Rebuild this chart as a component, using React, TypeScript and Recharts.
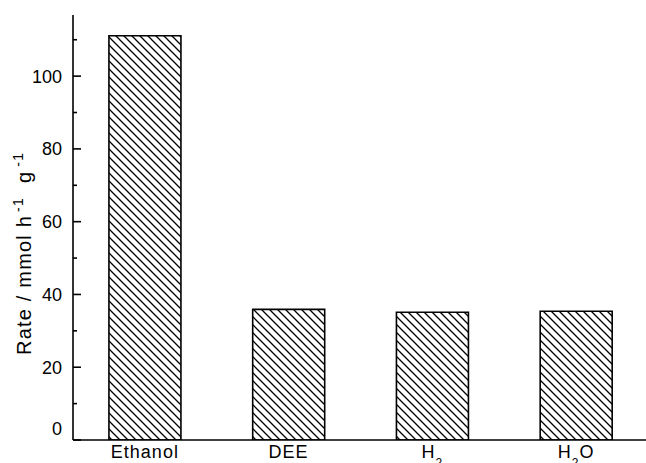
import React from 'react';
import { BarChart, Bar, XAxis, YAxis } from 'recharts';

const categories = ['Ethanol', 'DEE', 'H2', 'H2O'];
const rates = [111.1, 35.9, 35.1, 35.4];
const yTicks = [0, 10, 20, 30, 40, 50, 60, 70, 80, 90, 100, 110];
const yMajorTicks = [0, 20, 40, 60, 80, 100];
const yDomain = [0, 116.8];
const yLabelMain = 'Rate / mmol h';
const yLabelSup = '-1';
const yLabelMid = 'g';

const data = categories.map((c, i) => ({ name: c, rate: rates[i] }));

const FONT = '"Liberation Sans", Arial, Helvetica, sans-serif';

const YTick = (props: any) => {
  const { x, y, payload } = props;
  const v = payload.value;
  const major = yMajorTicks.includes(v);
  return (
    <g>
      <line x1={x} x2={x + (major ? 8 : 4)} y1={y} y2={y} stroke="#000" strokeWidth={1.6} />
      {major && (
        <text
          x={x - 11}
          y={v === 0 ? y - 11 : y}
          dy="0.36em"
          textAnchor="end"
          fontFamily={FONT}
          fontSize={18}
          fill="#000"
        >
          {v}
        </text>
      )}
    </g>
  );
};

const XTick = (props: any) => {
  const { x, y, payload } = props;
  const parts = String(payload.value).split(/(\d)/).filter((p) => p !== '');
  const children: any[] = [];
  let sub = false;
  parts.forEach((p, i) => {
    if (/^\d$/.test(p)) {
      children.push(
        <tspan key={i} dy={9} fontSize={12}>
          {p}
        </tspan>
      );
      sub = true;
    } else {
      children.push(
        <tspan key={i} dy={sub ? -9 : 0}>
          {p}
        </tspan>
      );
      sub = false;
    }
  });
  return (
    <text
      x={x}
      y={y + 18}
      textAnchor="middle"
      fontFamily={FONT}
      fontSize={18}
      letterSpacing={1}
      fill="#000"
    >
      {children}
    </text>
  );
};

const YLabel = () => {
  const cx = 31;
  const cy = 355;
  return (
    <text
      x={cx}
      y={cy}
      transform={`rotate(-90, ${cx}, ${cy})`}
      textAnchor="start"
      fontFamily={FONT}
      fontSize={20}
      letterSpacing={1.2}
      fill="#000"
    >
      <tspan>{yLabelMain}</tspan>
      <tspan dx={3} dy={-8} fontSize={14}>{yLabelSup}</tspan>
      <tspan dx={14} dy={8}>{yLabelMid}</tspan>
      <tspan dx={4} dy={-8} fontSize={14}>{yLabelSup}</tspan>
    </text>
  );
};

export default function App() {
  return (
    <div style={{ position: 'absolute', left: 0, top: 0, width: 646, height: 463, overflow: 'hidden', background: '#fff' }}>
      <svg width={0} height={0} style={{ position: 'absolute' }}>
        <defs>
          <pattern id="hatch" patternUnits="userSpaceOnUse" width={8} height={8}>
            <path d="M-2,-2 L10,10 M-2,6 L2,10 M6,-2 L10,2" stroke="#000" strokeWidth={1.3} />
          </pattern>
        </defs>
      </svg>
      <BarChart
        width={648}
        height={463}
        data={data}
        margin={{ top: 15, right: 0, bottom: 0, left: 0 }}
        barCategoryGap="25%"
      >
        <XAxis
          dataKey="name"
          height={23}
          tickSize={0}
          tickMargin={0}
          tickLine={false}
          axisLine={{ stroke: '#000', strokeWidth: 1.6 }}
          tick={<XTick />}
          interval={0}
        />
        <YAxis
          width={73}
          domain={yDomain}
          ticks={yTicks}
          interval={0}
          allowDataOverflow
          tickSize={0}
          tickMargin={0}
          tickLine={false}
          axisLine={{ stroke: '#000', strokeWidth: 1.6 }}
          tick={<YTick />}
          label={<YLabel />}
        />
        <Bar dataKey="rate" fill="url(#hatch)" stroke="#000" strokeWidth={1.6} isAnimationActive={false} />
      </BarChart>
    </div>
  );
}
